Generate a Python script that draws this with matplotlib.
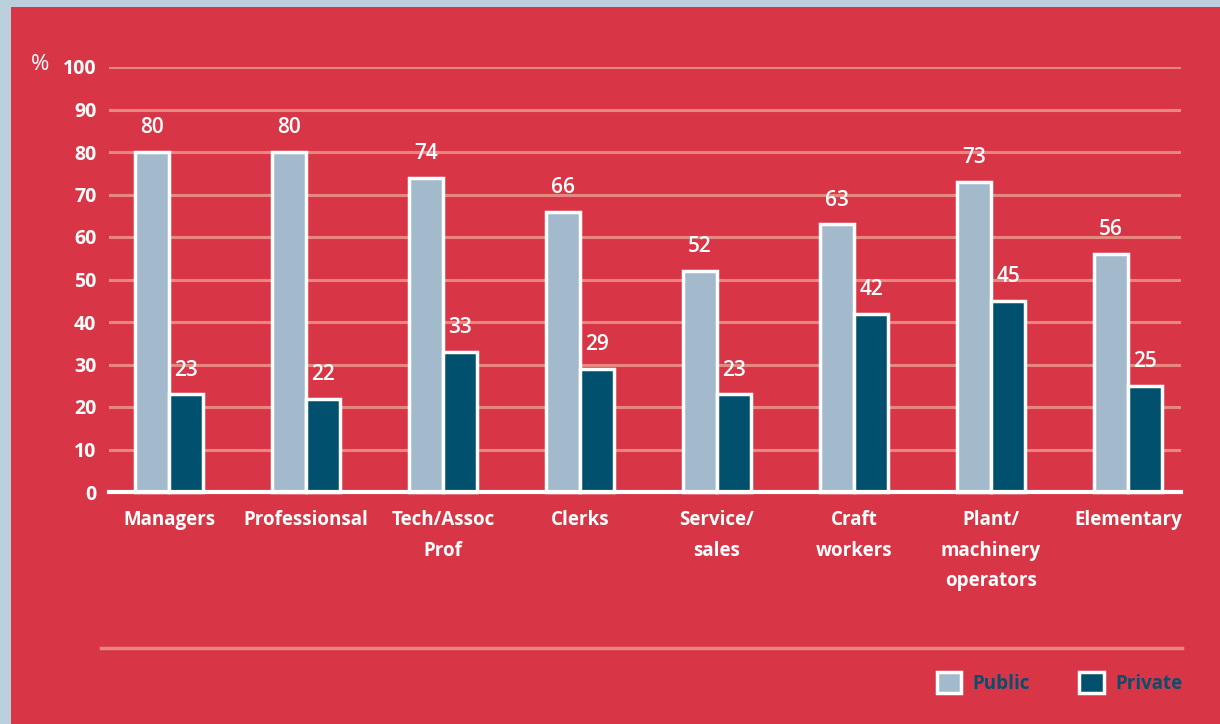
import numpy as np
import matplotlib.pyplot as plt
from matplotlib.patches import Rectangle, Patch
from matplotlib.lines import Line2D

plt.rcParams['font.family'] = ['Open Sans', 'DejaVu Sans']

categories = ['Managers', 'Professionsal', 'Tech/Assoc\nProf', 'Clerks',
              'Service/\nsales', 'Craft\nworkers', 'Plant/\nmachinery\noperators',
              'Elementary']
public = [80, 80, 74, 66, 52, 63, 73, 56]
private = [23, 22, 33, 29, 23, 42, 45, 25]
yticks = [0, 10, 20, 30, 40, 50, 60, 70, 80, 90, 100]

red = '#d83647'
border = '#bccfdd'
grid_col = '#e8877f'
pub_col = '#a3bacd'
priv_col = '#00506e'

W, H = 1220, 724
fig = plt.figure(figsize=(W / 100, H / 100), dpi=100, facecolor=border)
fig.add_artist(Rectangle((11 / W, 0), 1 - 11 / W, 1 - 7 / H,
                         transform=fig.transFigure, facecolor=red,
                         edgecolor='none', zorder=0))

ax = fig.add_axes([109 / W, (H - 492) / H, (1181 - 109) / W, 425 / H])
ax.set_facecolor('none')
for s in ax.spines.values():
    s.set_visible(False)

x = np.arange(len(categories))
bw = 0.25
ax.set_xlim(-60 / 137, 7 + 53 / 137)
ax.set_ylim(0, 100)

for t in yticks[1:]:
    ax.axhline(t, color=grid_col, lw=2.2, zorder=1)
ax.axhline(0, color='white', lw=3, zorder=4, clip_on=False)

b1 = ax.bar(x - bw / 2, public, bw, color=pub_col, edgecolor='white',
            linewidth=2.5, zorder=3, clip_on=False)
b2 = ax.bar(x + bw / 2, private, bw, color=priv_col, edgecolor='white',
            linewidth=2.5, zorder=3, clip_on=False)

# value labels above each bar
for xs, vals in ((x - bw / 2, public), (x + bw / 2, private)):
    for xi, v in zip(xs, vals):
        ax.text(xi, v + 3.2, str(v), ha='center', va='bottom', color='white',
                fontsize=15, fontweight='semibold', zorder=5)

ax.set_yticks(yticks)
ax.set_yticklabels([str(t) for t in yticks], fontsize=14, fontweight='bold',
                   color='white')
ax.tick_params(axis='y', length=0, pad=9)
ax.set_xticks(x)
ax.set_xticklabels(categories, fontsize=13.5, fontweight='bold', color='white',
                   linespacing=1.7, va='top')
ax.tick_params(axis='x', length=0, pad=13)

fig.text(49 / W, 1 - 64 / H, '%', ha='right', va='center', color='white',
         fontsize=16)

fig.add_artist(Line2D([101 / W, 1182 / W], [1 - 648 / H, 1 - 648 / H],
                      transform=fig.transFigure, color=grid_col, lw=2.5))

handles = [Patch(facecolor=pub_col, edgecolor='white', linewidth=2.5),
           Patch(facecolor=priv_col, edgecolor='white', linewidth=2.5)]
leg = fig.legend(handles, ['Public', 'Private'], loc='center right',
                 bbox_to_anchor=(1199 / W, 1 - 683 / H), ncol=2, frameon=False,
                 handlelength=1.3, handleheight=1.3, handletextpad=0.6,
                 columnspacing=2.65, prop={'weight': 'bold', 'size': 13.5})
for t in leg.get_texts():
    t.set_color('#0b4d6c')

fig.savefig('out.png', dpi=100, facecolor=fig.get_facecolor())
